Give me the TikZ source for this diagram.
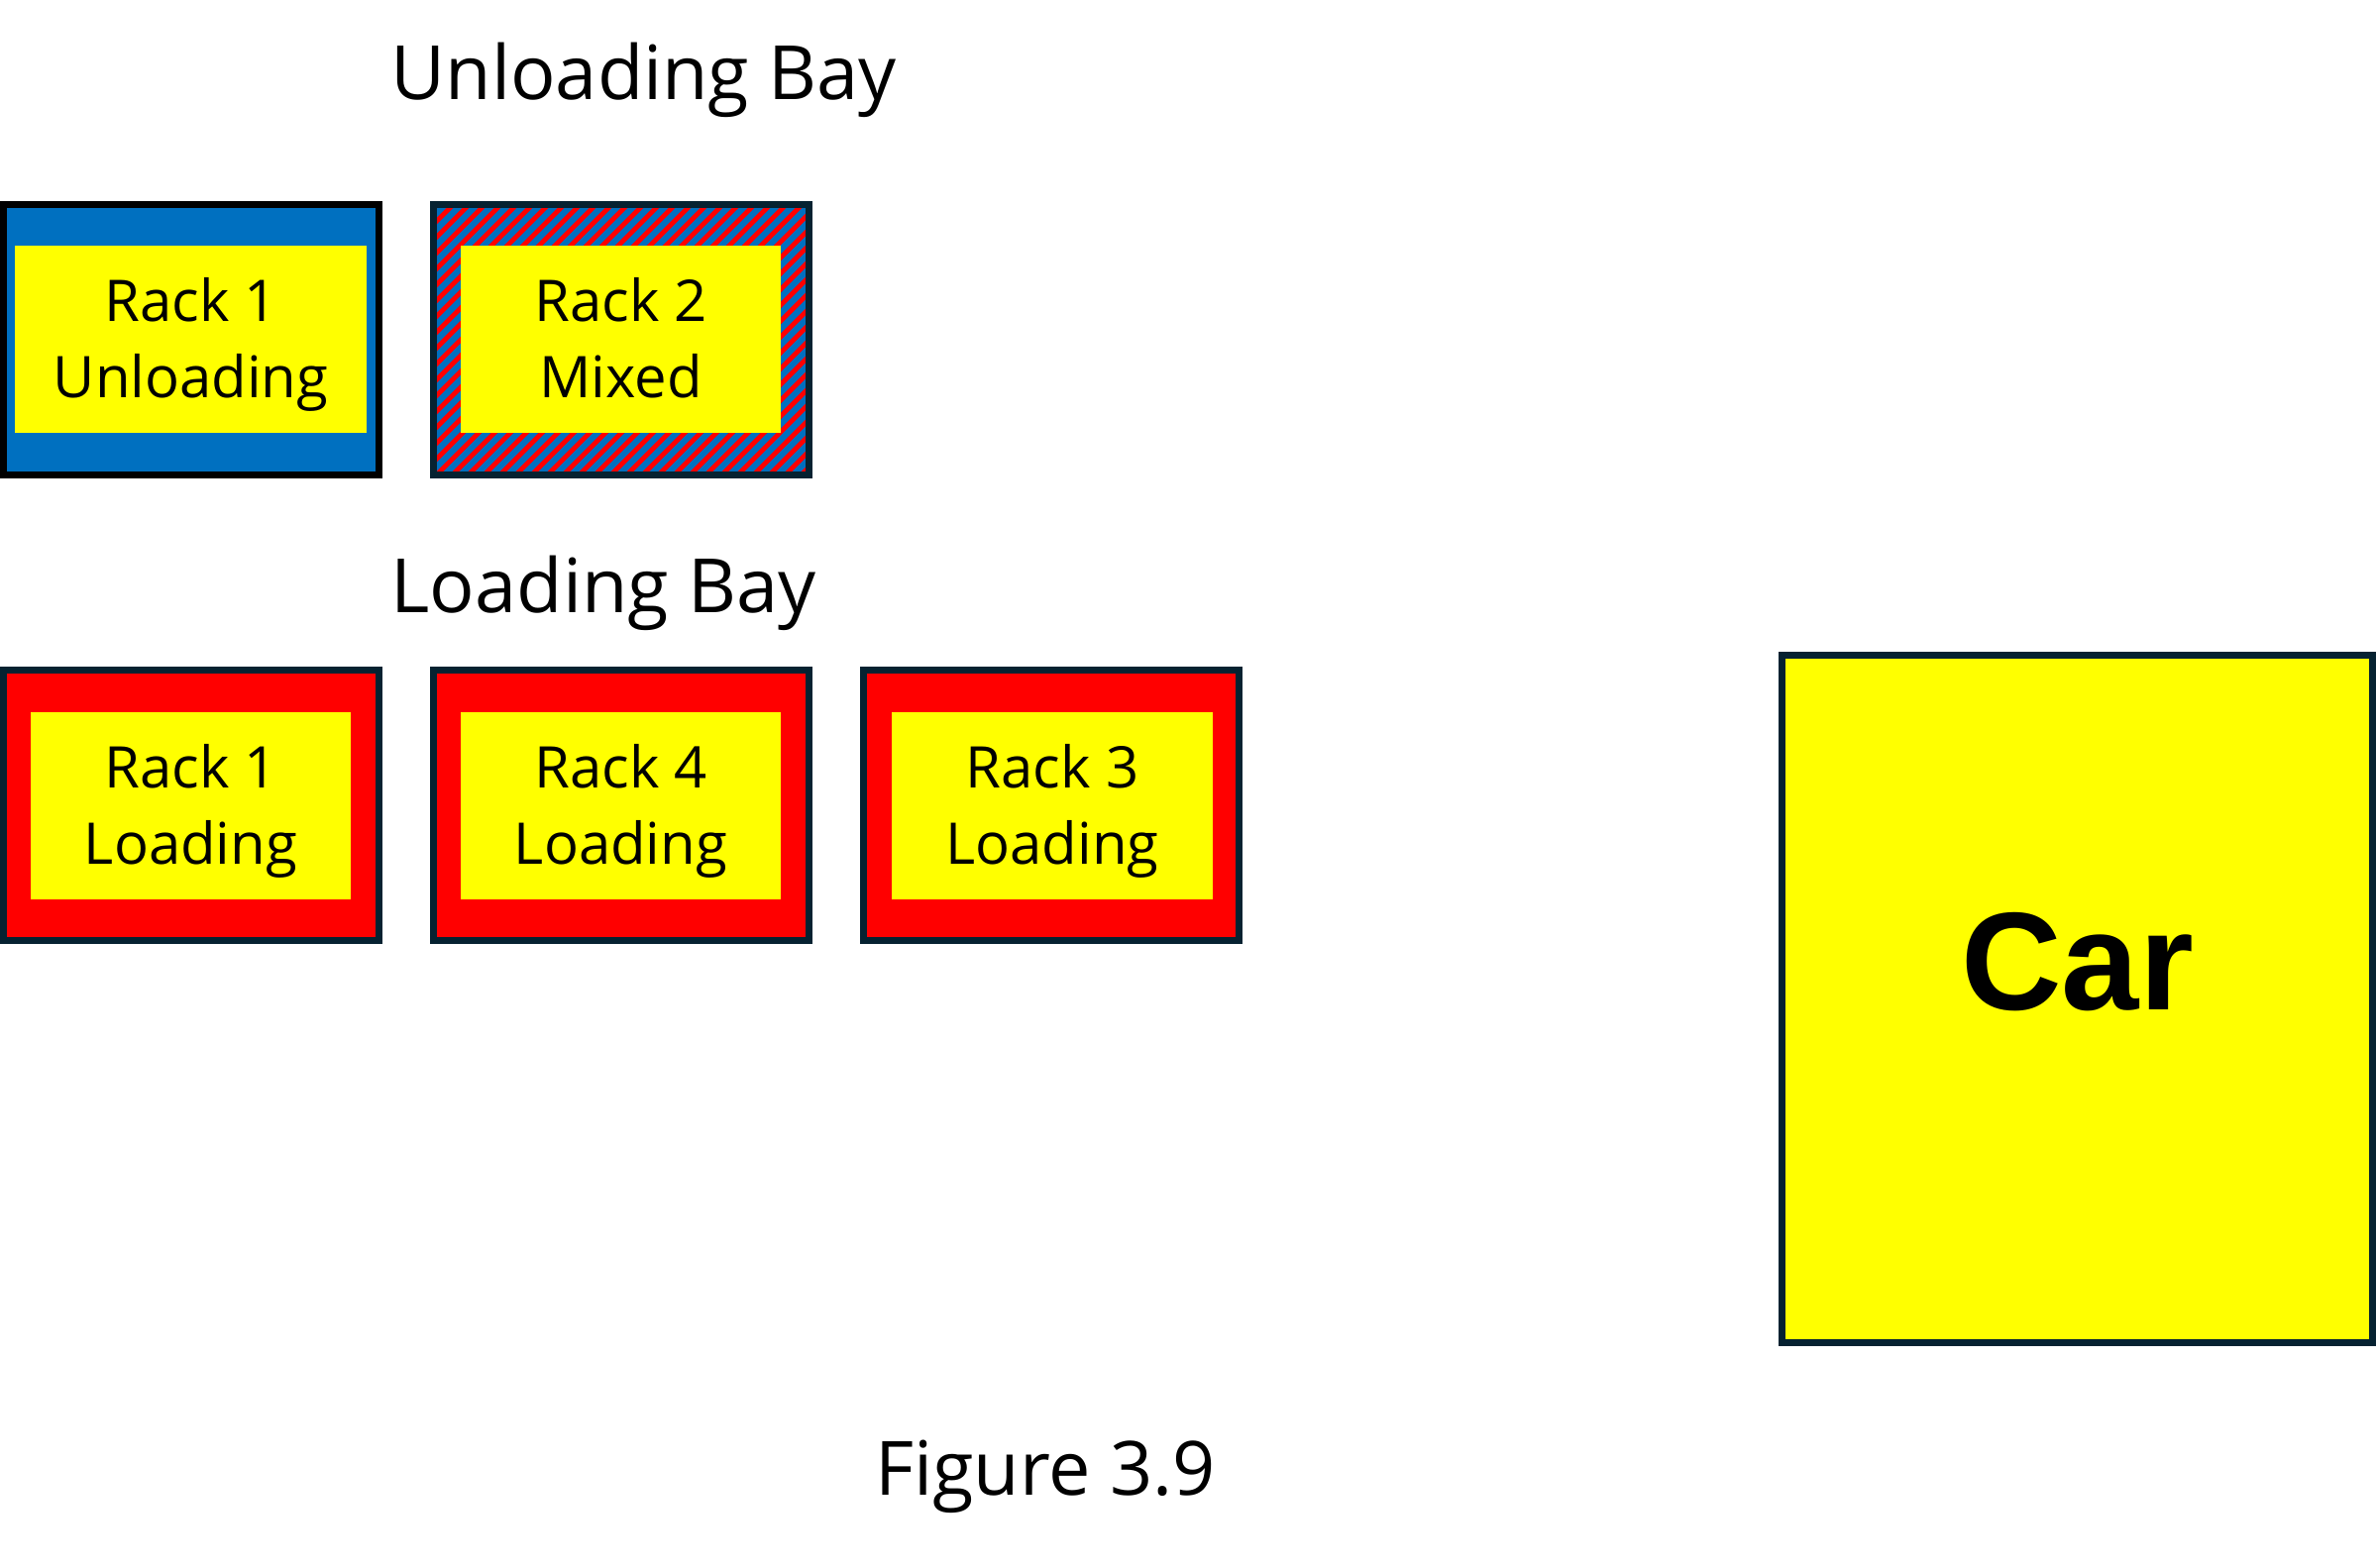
\documentclass[tikz,border=0pt]{standalone}
\usepackage{fontspec}
\setmainfont{Open Sans}
\newfontfamily\carfont{Liberation Sans}
\definecolor{rackblue}{HTML}{0070C0}
\definecolor{rackred}{HTML}{FF0000}
\definecolor{rackyellow}{HTML}{FFFF00}
\definecolor{edgeline}{HTML}{062231}
\newcommand{\racklabel}[2]{\begin{tabular}[b]{@{}c@{}}#1\\#2\end{tabular}}
\begin{document}
\begin{tikzpicture}[x=0.01cm,y=-0.01cm,
  rackframe/.style={rectangle, draw=edgeline, line width=0.07cm,
    minimum width=3.79cm, minimum height=2.73cm, inner sep=0, outer sep=0},
  core/.style={rectangle, fill=rackyellow, draw=none, inner sep=0,
    minimum width=#1, minimum height=1.89cm},
  core/.default=3.23cm,
  racktext/.style={anchor=base, yshift=-0.585cm, inner sep=0,
    font=\fontsize{16.5pt}{21.9pt}\selectfont},
  heading/.style={inner sep=0, font=\fontsize{21.5pt}{25pt}\selectfont},
  stripe/.style={rackred, line width=0.048cm}
]
% page
\fill[white] (0,0) rectangle (2398,1583);
\useasboundingbox (0,0) rectangle (2398,1583);

% unloading bay
\node[heading, anchor=base west] (ubay) at (394,101) {Unloading Bay};
\node[rackframe, draw=black, fill=rackblue] (u1) at (193,343) {};
\node[core=3.55cm] (u1c) at (192.5,342.5) {};
\node[racktext] (u1t) at (u1c.center) {\racklabel{Rack 1}{Unloading}};

% mixed rack: blue ground with red diagonal hatching
\node[rackframe, fill=rackblue] (u2) at (627,343) {};
\begin{scope}
  \clip (u2.south west) rectangle (u2.north east);
  \foreach \s in {116,132,...,840}
    \draw[stripe] ({\s},500) -- ({\s+320},180);
\end{scope}
\draw[edgeline, line width=0.07cm] (u2.south west) rectangle (u2.north east);
\node[core] (u2c) at (626.5,342.5) {};
\node[racktext] (u2t) at (u2c.center) {\racklabel{Rack 2}{Mixed}};

% loading bay
\node[heading, anchor=base west] (lbay) at (394,619) {Loading Bay};
\node[rackframe, fill=rackred] (l1) at (193,813) {};
\node[core] (l1c) at (192.5,813.5) {};
\node[racktext] (l1t) at (l1c.center) {\racklabel{Rack 1}{Loading}};

\node[rackframe, fill=rackred] (l4) at (627,813) {};
\node[core] (l4c) at (626.5,813.5) {};
\node[racktext] (l4t) at (l4c.center) {\racklabel{Rack 4}{Loading}};

\node[rackframe, fill=rackred] (l3) at (1061,813) {};
\node[core] (l3c) at (1062,813.5) {};
\node[racktext] (l3t) at (l3c.center) {\racklabel{Rack 3}{Loading}};

% car
\node[rectangle, draw=edgeline, line width=0.07cm, fill=rackyellow,
  minimum width=5.96cm, minimum height=6.94cm, inner sep=0] (car) at (2096.5,1008.5) {};
\node[anchor=base, inner sep=0,
  font={\carfont\bfseries\fontsize{40pt}{42pt}\selectfont}] (cart) at (2096.5,1019) {Car};

% caption
\node[heading, anchor=base] (cap) at (1055,1509) {Figure 3.9};
\end{tikzpicture}
\end{document}
